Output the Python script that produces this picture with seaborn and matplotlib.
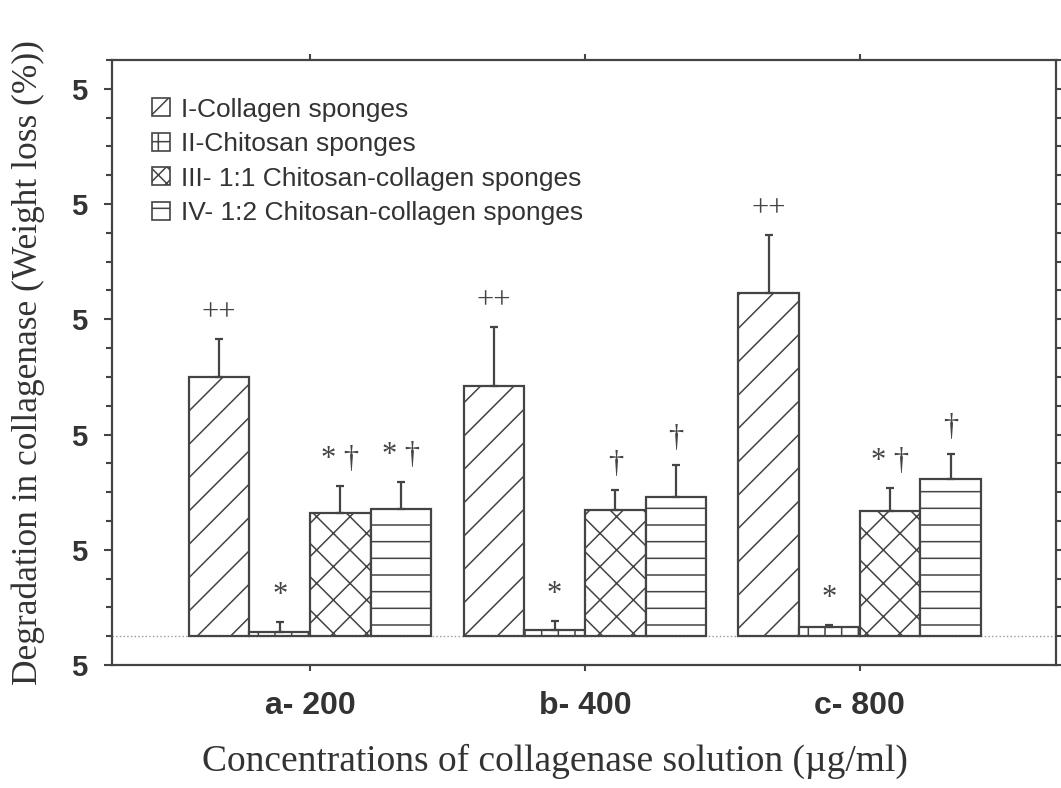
"""
Collagenase degradation of sponges - bar chart with hatches
"""
import matplotlib
matplotlib.use('Agg')
import matplotlib.pyplot as plt
from matplotlib.patches import Patch
from matplotlib.ticker import FixedLocator, MultipleLocator, FixedFormatter
import numpy as np
import pandas as pd
import seaborn as sns

# data
concentrations = ['a- 200', 'b- 400', 'c- 800']
sponges = ['I-Collagen sponges', 'II-Chitosan sponges',
           'III- 1:1 Chitosan-collagen sponges', 'IV- 1:2 Chitosan-collagen sponges']
collagen_mean = [45.0, 43.5, 59.5]
collagen_sd = [6.6, 10.2, 10.1]
chitosan_mean = [0.7, 1.0, 1.6]
chitosan_sd = [1.8, 1.7, 0.3]
mix11_mean = [21.3, 21.9, 21.7]
mix11_sd = [4.8, 3.4, 4.0]
mix12_mean = [22.1, 24.1, 27.3]
mix12_sd = [4.7, 5.6, 4.4]
collagen_marks = ['++', '++', '++']
chitosan_marks = ['*', '*', '*']
mix11_marks = ['* \u2020', '\u2020', '* \u2020']
mix12_marks = ['* \u2020', '\u2020', '\u2020']
ytick_values = [-5, 15, 35, 55, 75, 95]
ytick_labels = ['5', '5', '5', '5', '5', '5']

means = [collagen_mean, chitosan_mean, mix11_mean, mix12_mean]
sds = [collagen_sd, chitosan_sd, mix11_sd, mix12_sd]
marks = [collagen_marks, chitosan_marks, mix11_marks, mix12_marks]
hatches = ['/', '+', 'x', '-']
legend_hatches = ['/', '+', 'xx', '-']

rows = []
for s, m, e in zip(sponges, means, sds):
    for c, mv, ev in zip(concentrations, m, e):
        rows.append({'conc': c, 'sponge': s, 'mean': mv, 'sd': ev})
df = pd.DataFrame(rows)

sns.set_style('ticks')
plt.rcParams['font.family'] = ['Liberation Sans', 'DejaVu Sans']
plt.rcParams['hatch.linewidth'] = 1.1
plt.rcParams['hatch.color'] = '#444444'

ink = '#444444'
serif = ['Liberation Serif', 'DejaVu Serif']
fig = plt.figure(figsize=(10.61, 7.88), dpi=100)
ax = fig.add_axes([112 / 1061, 1 - 665 / 788, 944 / 1061, 605 / 788])

sns.barplot(data=df, x='conc', y='mean', hue='sponge', order=concentrations,
            hue_order=sponges, width=0.883, color='white', edgecolor=ink,
            linewidth=1.6, errorbar=None, legend=False, ax=ax)

for cont, h, e, mk in zip(ax.containers, hatches, sds, marks):
    xs = []
    tops = []
    for bar in cont:
        bar.set_facecolor('white')
        bar.set_hatch(h)
        bar.set_edgecolor(ink)
        xs.append(bar.get_x() + bar.get_width() / 2)
        tops.append(bar.get_height())
    xs = np.array(xs)
    tops = np.array(tops)
    e = np.array(e)
    ax.errorbar(xs, tops, yerr=[np.zeros_like(e), e], fmt='none', ecolor=ink,
                elinewidth=1.6, capsize=3, capthick=1.6, zorder=1)
    for x, t, ev, label in zip(xs, tops, e, mk):
        ax.annotate(label, (x, t + ev), xytext=(0, 19), textcoords='offset points',
                    ha='center', va='center', fontsize=22, color=ink, family=serif)

ax.axhline(0, color='#999999', ls=':', lw=1, zorder=0)

ax.set_xlim(-0.721, 2.714)
ax.set_ylim(-5, 100)
ax.yaxis.set_major_locator(FixedLocator(ytick_values))
ax.yaxis.set_major_formatter(FixedFormatter(ytick_labels))
ax.yaxis.set_minor_locator(MultipleLocator(5))

for sp in ax.spines.values():
    sp.set_visible(True)
    sp.set_color(ink)
    sp.set_linewidth(1.6)

ax.tick_params(axis='both', which='both', direction='out', color=ink,
               top=True, right=True, width=1.5)
ax.tick_params(axis='y', which='major', length=6, labelsize=21, labelcolor='#333333', pad=12)
ax.tick_params(axis='y', which='minor', length=4)
ax.tick_params(axis='x', which='major', length=4, labelsize=23, labelcolor='#333333', pad=15)
for lab in ax.get_yticklabels() + ax.get_xticklabels():
    lab.set_fontweight('bold')

ax.set_xlabel('Concentrations of collagenase solution (\u00b5g/ml)', fontsize=27,
              family=serif, color='#333333')
ax.xaxis.set_label_coords(0.469, -0.13)
ax.set_ylabel('Degradation in collagenase (Weight loss (%))', fontsize=25.5,
              family=serif, color='#333333')
ax.yaxis.set_label_coords(-0.071, 0.5)

handles = [Patch(facecolor='white', edgecolor=ink, hatch=h, linewidth=1.2)
           for h in legend_hatches]
ax.legend(handles, sponges, loc='upper left', bbox_to_anchor=(0.042, 0.938),
          frameon=False, fontsize=19, handlelength=0.68, handleheight=0.68,
          handletextpad=0.45, labelspacing=0.4, borderpad=0, borderaxespad=0,
          labelcolor='#333333')

plt.savefig('out.png', dpi=100)
plt.close()
